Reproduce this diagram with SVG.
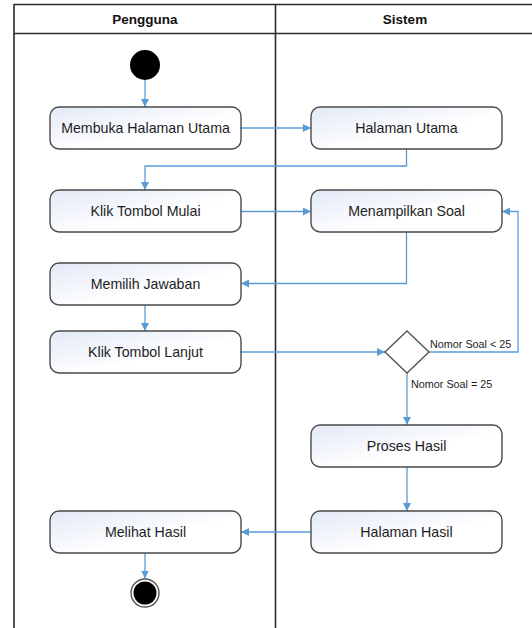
<svg xmlns="http://www.w3.org/2000/svg" width="532" height="628" viewBox="0 0 532 628">
  <style>
    .lane { stroke: #2b2b2b; stroke-width: 1.6; fill: none; }
    .head { font-family: "Liberation Sans", Arial, sans-serif; font-size: 13.5px; font-weight: bold; fill: #111; text-anchor: middle; }
    .act { fill: url(#actFill); stroke: #4a4a4a; stroke-width: 1.4; }
    .lbl { font-family: "Liberation Sans", Arial, sans-serif; font-size: 14.2px; fill: #1e1e1e; text-anchor: middle; }
    .guard { font-family: "Liberation Sans", Arial, sans-serif; font-size: 10.8px; fill: #1e1e1e; }
    .flow { stroke: #5b9bd5; stroke-width: 1.3; fill: none; marker-end: url(#arrow); }
  </style>
  <defs>
    <linearGradient id="actFill" x1="0" y1="0" x2="1" y2="1">
      <stop offset="0" stop-color="#e2e9f6"/>
      <stop offset="0.6" stop-color="#ffffff"/>
      <stop offset="1" stop-color="#ffffff"/>
    </linearGradient>
    <marker id="arrow" viewBox="0 0 8 8" markerWidth="8" markerHeight="8" refX="8" refY="4" orient="auto" markerUnits="userSpaceOnUse">
      <path d="M0,0 L8,4 L0,8 z" fill="#5b9bd5"/>
    </marker>
  </defs>

  <rect width="532" height="628" fill="#ffffff"/>

  <!-- swimlanes -->
  <g id="swimlanes">
    <line class="lane" x1="14" y1="4.5" x2="532" y2="4.5" stroke="#555"/>
    <line class="lane" x1="14" y1="33.5" x2="532" y2="33.5"/>
    <line class="lane" x1="14" y1="4" x2="14" y2="628"/>
    <line class="lane" x1="275.5" y1="4" x2="275.5" y2="628"/>
    <text class="head" x="145" y="23.5">Pengguna</text>
    <text class="head" x="405" y="23.5">Sistem</text>
  </g>

  <!-- connectors -->
  <g id="connectors">
    <path class="flow" d="M145,80 V107"/>
    <path class="flow" d="M241,128 H311"/>
    <path class="flow" d="M406.5,149 V166 H145 V190"/>
    <path class="flow" d="M241,211.5 H311"/>
    <path class="flow" d="M406.5,232 V283.5 H241"/>
    <path class="flow" d="M145,305 V331"/>
    <path class="flow" d="M241,352 H385"/>
    <path class="flow" d="M429,352 H518 V211.5 H502"/>
    <path class="flow" d="M407,373 V425"/>
    <path class="flow" d="M407,467 V511"/>
    <path class="flow" d="M311,532 H241"/>
    <path class="flow" d="M145,553 V578.5"/>
    <text class="guard" x="430" y="347.5">Nomor Soal &lt; 25</text>
    <text class="guard" x="411" y="387.5">Nomor Soal = 25</text>
  </g>

  <!-- start -->
  <g id="start">
    <circle cx="145" cy="65" r="15" fill="#000"/>
  </g>

  <g id="membuka-halaman-utama">
    <rect class="act" x="50" y="107" width="191" height="42" rx="9"/>
    <text class="lbl" x="145.5" y="132.5">Membuka Halaman Utama</text>
  </g>
  <g id="halaman-utama">
    <rect class="act" x="311" y="107" width="191" height="42" rx="9"/>
    <text class="lbl" x="406.5" y="132.5">Halaman Utama</text>
  </g>
  <g id="klik-tombol-mulai">
    <rect class="act" x="50" y="190" width="191" height="42" rx="9"/>
    <text class="lbl" x="145.5" y="215.5">Klik Tombol Mulai</text>
  </g>
  <g id="menampilkan-soal">
    <rect class="act" x="311" y="190" width="191" height="42" rx="9"/>
    <text class="lbl" x="406.5" y="215.5">Menampilkan Soal</text>
  </g>
  <g id="memilih-jawaban">
    <rect class="act" x="50" y="263" width="191" height="42" rx="9"/>
    <text class="lbl" x="145.5" y="288.5">Memilih Jawaban</text>
  </g>
  <g id="klik-tombol-lanjut">
    <rect class="act" x="50" y="331" width="191" height="42" rx="9"/>
    <text class="lbl" x="145.5" y="356.5">Klik Tombol Lanjut</text>
  </g>
  <g id="decision">
    <path d="M407,331 L429,352 L407,373 L385,352 z" fill="#ffffff" stroke="#555" stroke-width="1.4"/>
  </g>
  <g id="proses-hasil">
    <rect class="act" x="311" y="425" width="191" height="42" rx="9"/>
    <text class="lbl" x="406.5" y="450.5">Proses Hasil</text>
  </g>
  <g id="halaman-hasil">
    <rect class="act" x="311" y="511" width="191" height="42" rx="9"/>
    <text class="lbl" x="406.5" y="536.5">Halaman Hasil</text>
  </g>
  <g id="melihat-hasil">
    <rect class="act" x="50" y="511" width="191" height="42" rx="9"/>
    <text class="lbl" x="145.5" y="536.5">Melihat Hasil</text>
  </g>

  <!-- end -->
  <g id="end">
    <circle cx="145" cy="593" r="14" fill="#fff" stroke="#555" stroke-width="1.4"/>
    <circle cx="145" cy="593" r="11.5" fill="#000"/>
  </g>
</svg>
